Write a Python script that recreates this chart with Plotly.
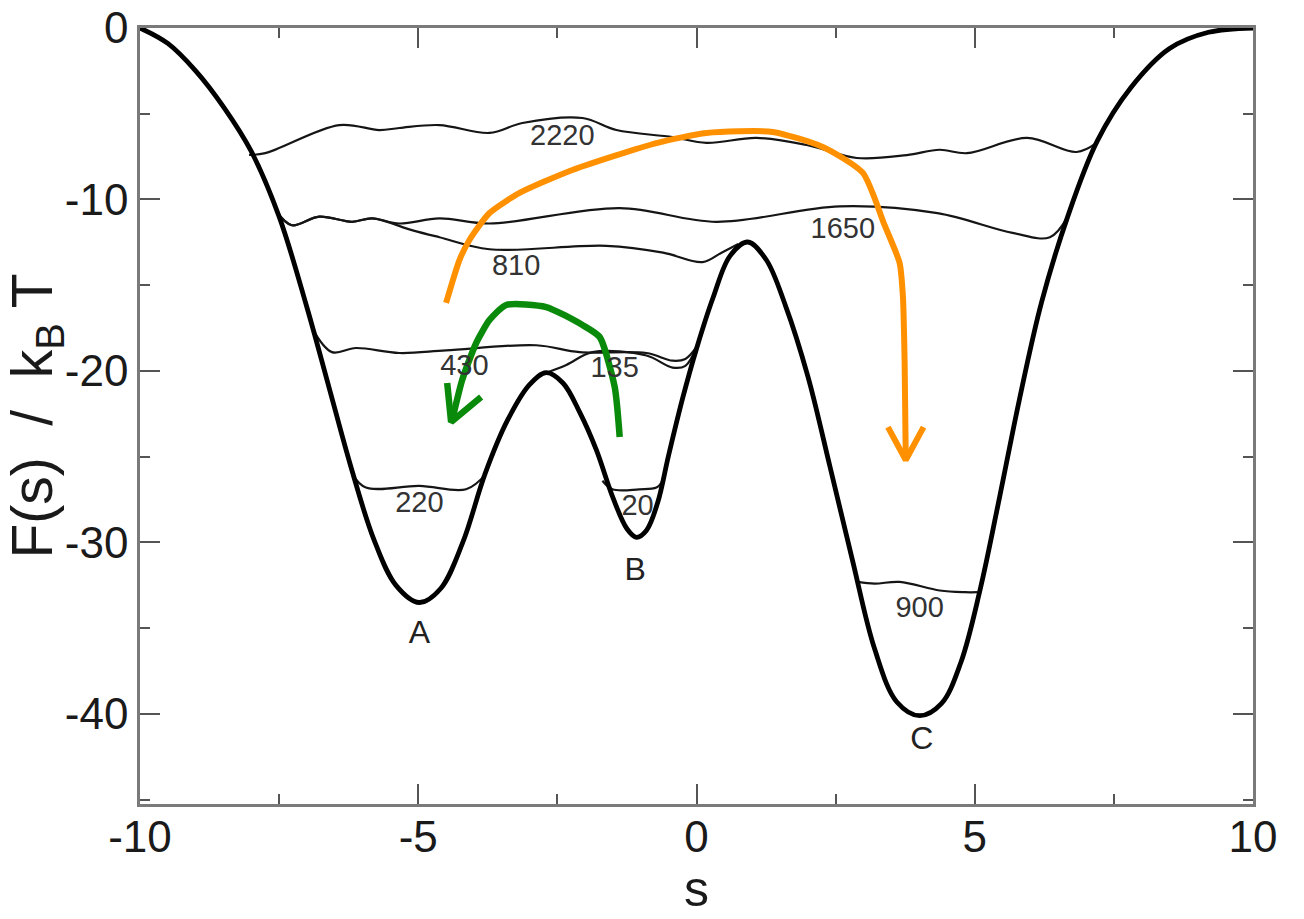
import plotly.graph_objects as go

# ---------------- data ----------------
# converged free-energy profile (thick curve)
s_full = [-10, -9.5, -9.0, -8.5, -8.0, -7.5, -7.0, -6.6, -6.2, -5.8, -5.4, -4.98, -4.6, -4.2,
          -3.8, -3.4, -3.0, -2.7, -2.4, -2.1, -1.8, -1.5, -1.25, -1.08, -0.9, -0.7, -0.5,
          -0.25, 0.0, 0.3, 0.6, 0.92, 1.25, 1.6, 2.0, 2.4, 2.8, 3.2, 3.6, 4.01, 4.4, 4.75,
          5.1, 5.45, 5.8, 6.2, 6.67, 7.2, 7.8, 8.5, 9.2, 10]
F_full = [0, -0.9, -2.5, -4.6, -7.2, -11.0, -16.3, -21.0, -25.7, -29.8, -32.5, -33.5, -32.7, -30.0,
          -26.0, -22.9, -20.8, -20.1, -20.7, -22.4, -24.6, -27.4, -29.2, -29.7, -29.3, -27.7, -24.9,
          -21.6, -18.7, -15.7, -13.3, -12.48, -13.5, -16.2, -20.3, -25.6, -31.0, -36.2, -39.3, -40.1, -39.4, -37.0,
          -32.7, -27.3, -21.7, -16.0, -11.0, -6.6, -3.5, -1.2, -0.25, 0]

# partially filled profiles at successive times (thin curves)
s_20 = [-1.69, -1.51, -1.03, -0.72, -0.61]
F_20 = [-26.4, -26.9, -26.9, -26.8, -26.4]

s_135 = [-2.70, -2.34, -1.87, -0.9, -0.43, -0.2, 0.0]
F_135 = [-20.1, -19.65, -18.9, -19.1, -19.8, -19.7, -18.6]

s_220 = [-6.19, -5.94, -4.98, -4.14, -3.78]
F_220 = [-26.0, -26.8, -26.7, -26.9, -26.0]

s_430 = [-6.91, -6.55, -6.12, -5.34, -4.5, -2.88, -2.1, -0.9, -0.43, -0.2, 0.0]
F_430 = [-17.5, -18.9, -18.66, -18.95, -18.8, -18.5, -18.9, -18.95, -19.4, -19.3, -18.6]

s_810 = [-7.55, -7.27, -6.78, -6.19, -5.83, -5.1, -4.62, -3.72, -1.62, -0.6, 0.11, 0.45, 0.75]
F_810 = [-10.7, -11.5, -11.0, -11.3, -11.1, -11.8, -12.2, -12.9, -12.7, -13.1, -13.65, -13.1, -12.6]

s_1650 = [-7.55, -7.27, -6.78, -6.19, -5.83, -5.34, -4.62, -3.72, -1.38, 0.36, 2.57, 4.33, 5.68, 6.35, 6.67]
F_1650 = [-10.7, -11.5, -11.0, -11.3, -11.1, -11.4, -11.1, -11.4, -10.5, -11.3, -10.4, -10.8, -11.95, -12.2, -11.0]

s_2220 = [-8.04, -7.75, -6.42, -5.70, -5.34, -4.62, -3.72, -3.13, -2.05, -1.44, -0.43, 0.18, 1.08,
          1.98, 2.88, 3.78, 4.37, 4.86, 5.94, 6.83, 7.19]
F_2220 = [-7.4, -7.3, -5.66, -5.95, -5.83, -5.66, -6.12, -5.54, -5.25, -5.95, -6.36, -6.7, -6.41,
          -6.82, -7.58, -7.41, -7.1, -7.3, -6.41, -7.23, -6.7]

s_900 = [2.9, 3.2, 3.65, 4.37, 4.82, 5.05]
F_900 = [-32.3, -32.4, -32.3, -32.8, -32.9, -32.9]

# curve labels
label_text = ["2220", "1650", "810", "430", "135", "220", "20", "900"]
label_s = [-2.41, 2.63, -3.24, -4.17, -1.47, -4.98, -1.06, 4.01]
label_F = [-6.4, -11.8, -14.0, -19.8, -19.9, -27.8, -28.0, -33.9]

basin_text = ["A", "B", "C"]
basin_s = [-4.98, -1.10, 4.05]
basin_F = [-35.4, -31.7, -41.6]

# hand-drawn arrows
orange_s = [-4.50, -4.26, -4.08, -3.72, -3.18, -2.23, -0.72, 0.18, 1.37, 2.27, 2.99, 3.38, 3.65, 3.71, 3.74, 3.76]
orange_F = [-16.03, -13.53, -12.36, -10.79, -9.62, -8.28, -6.71, -6.12, -6.06, -6.94, -8.45, -11.5, -13.7, -15.7, -19.5, -25.0]
orange_head_s = [3.44, 3.76, 4.08]
orange_head_F = [-23.27, -25.19, -23.27]

green_s = [-1.38, -1.47, -1.74, -2.05, -2.70, -3.42, -3.72, -3.96, -4.21, -4.39]
green_F = [-23.85, -20.93, -18.02, -17.32, -16.27, -16.15, -17.03, -18.37, -20.52, -22.86]
green_head_s = [-4.48, -4.41, -3.87]
green_head_F = [-20.7, -22.97, -21.52]

# axes
x_ticks = [-10, -5, 0, 5, 10]
y_ticks = [0, -10, -20, -30, -40]

# ---------------- figure ----------------
FONT = "Arial, Liberation Sans, Helvetica, sans-serif"
fig = go.Figure()

thin = [(s_2220, F_2220), (s_1650, F_1650), (s_810, F_810), (s_430, F_430),
        (s_135, F_135), (s_220, F_220), (s_20, F_20), (s_900, F_900)]
for xs, ys in thin:
    fig.add_trace(go.Scatter(x=xs, y=ys, mode="lines",
                             line=dict(color="#151515", width=2.2, shape="spline", smoothing=1.0),
                             hoverinfo="skip", showlegend=False))

fig.add_trace(go.Scatter(x=s_full, y=F_full, mode="lines",
                         line=dict(color="#000000", width=4.8, shape="spline", smoothing=1.0),
                         showlegend=False))

fig.add_trace(go.Scatter(x=orange_s, y=orange_F, mode="lines",
                         line=dict(color="#FF9100", width=6, shape="spline", smoothing=0.6),
                         showlegend=False))
fig.add_trace(go.Scatter(x=orange_head_s, y=orange_head_F, mode="lines",
                         line=dict(color="#FF9100", width=6), showlegend=False))
fig.add_trace(go.Scatter(x=green_s, y=green_F, mode="lines",
                         line=dict(color="#0A8A0A", width=6.5, shape="spline", smoothing=0.6),
                         showlegend=False))
fig.add_trace(go.Scatter(x=green_head_s, y=green_head_F, mode="lines",
                         line=dict(color="#0A8A0A", width=6.5), showlegend=False))

fig.add_trace(go.Scatter(x=label_s, y=label_F, mode="text", text=label_text,
                         textfont=dict(family=FONT, size=29, color="#333333"),
                         showlegend=False, hoverinfo="skip"))
fig.add_trace(go.Scatter(x=basin_s, y=basin_F, mode="text", text=basin_text,
                         textfont=dict(family=FONT, size=32, color="#222222"),
                         showlegend=False, hoverinfo="skip"))

axis_common = dict(
    showline=True, linecolor="#7a7a7a", linewidth=2.5, mirror="ticks",
    ticks="inside", ticklen=20, tickwidth=2, tickcolor="#555555",
    showgrid=False, zeroline=False,
    tickfont=dict(family=FONT, size=44, color="#1a1a1a"),
)

fig.update_xaxes(range=[-10, 10], tickvals=x_ticks, ticktext=[str(v) for v in x_ticks],
                 minor=dict(ticks="inside", ticklen=10, tickwidth=2, tickcolor="#555555", dtick=2.5, tick0=0),
                 title=dict(text="s", font=dict(family=FONT, size=50, color="#1a1a1a"), standoff=6),
                 ticklabelstandoff=-8,
                 **axis_common)
fig.update_yaxes(range=[-45.25, 0], tickvals=y_ticks, ticktext=[str(v) for v in y_ticks],
                 minor=dict(ticks="inside", ticklen=10, tickwidth=2, tickcolor="#555555", dtick=5, tick0=0),
                 title=dict(text="F(s)  /  k<sub>B</sub> T", font=dict(family=FONT, size=57, color="#1a1a1a"), standoff=10),
                 ticklabelstandoff=0,
                 **axis_common)

fig.update_layout(
    width=1304, height=919,
    margin=dict(l=140, r=51, t=28, b=115, autoexpand=False),
    paper_bgcolor="white", plot_bgcolor="white",
    showlegend=False,
)

fig.write_html("out.html")
